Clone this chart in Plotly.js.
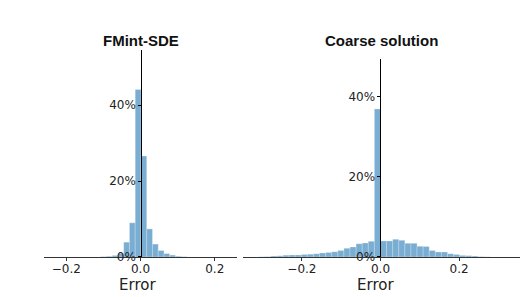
<!DOCTYPE html>
<html>
<head>
<meta charset="utf-8">
<script src="https://cdn.plot.ly/plotly-3.0.1.min.js"></script>
<style>
  html, body { margin: 0; padding: 0; background: #ffffff; }
  #chart { width: 528px; height: 297px; }
</style>
</head>
<body>
<div id="chart"></div>
<script>
// Error histograms, bin width about 0.0155, heights in percent of samples

// FMint-SDE panel
const fmintCenters = [-0.0995, -0.084, -0.0685, -0.053, -0.0375, -0.022, -0.0065,
  0.009, 0.0245, 0.040, 0.0555, 0.071, 0.0865, 0.102, 0.1175];
const fmintPercent = [0.1, 0.2, 0.4, 0.9, 3.9, 9.0, 44.1,
  26.6, 7.4, 3.4, 1.7, 0.9, 0.5, 0.2, 0.1];

// Coarse solution panel
const coarseCenters = [-0.302, -0.2868, -0.2713, -0.2558, -0.2403, -0.2248, -0.2093,
  -0.1938, -0.1783, -0.1628, -0.1473, -0.1318, -0.1163, -0.1008, -0.0853, -0.0698,
  -0.0543, -0.0388, -0.0233, -0.0078,
  0.0078, 0.0233, 0.0388, 0.0543, 0.0698, 0.0853, 0.1008, 0.1163, 0.1318,
  0.1473, 0.1628, 0.1783, 0.1938, 0.2093, 0.2248, 0.2403, 0.2558, 0.2713];
const coarsePercent = [0.05, 0.1, 0.25, 0.3, 0.45, 0.5, 0.5,
  0.6, 0.7, 0.8, 1.0, 1.15, 1.3, 1.65, 2.15, 2.5,
  3.3, 3.5, 3.9, 36.9,
  4.0, 4.0, 4.4, 4.15, 3.4, 3.4, 2.65, 2.6, 1.65,
  1.25, 1.25, 0.8, 0.65, 0.4, 0.33, 0.25, 0.1, 0.05];

const panelTitles = ['FMint-SDE', 'Coarse solution'];
const xLabel = 'Error';
const xTicks = [-0.2, 0, 0.2];
const yTicks = [0, 20, 40];
const yTickText = yTicks.map(v => v + '%');

const barColor = 'rgba(31,119,180,0.6)';
const tickFont = { family: 'DejaVu Sans', size: 12, color: '#222' };

function histTrace(x, y, xa, ya) {
  return {
    type: 'bar',
    x: x,
    y: y,
    width: 0.0155,
    xaxis: xa,
    yaxis: ya,
    marker: { color: barColor, line: { color: 'rgba(255,255,255,0.5)', width: 0.5 } },
    hovertemplate: '%{x:.3f}<br>%{y}%<extra></extra>',
  };
}

function xAxis(domain, range, anchor) {
  return {
    domain: domain,
    range: range,
    anchor: anchor,
    tickmode: 'array',
    tickvals: xTicks,
    tickformat: '.1f',
    ticks: 'outside',
    ticklen: 3,
    ticklabelstandoff: -2,
    tickcolor: '#333',
    showline: true,
    linecolor: '#333',
    linewidth: 1,
    showgrid: false,
    zeroline: false,
    tickfont: tickFont,
  };
}

function yAxis(domain, range, position) {
  return {
    domain: domain,
    range: range,
    anchor: 'free',
    position: position,
    tickmode: 'array',
    tickvals: yTicks,
    ticktext: yTickText,
    ticks: 'outside',
    ticklen: 3,
    tickcolor: '#000',
    showline: true,
    linecolor: '#000',
    linewidth: 1,
    showgrid: false,
    zeroline: false,
    tickfont: tickFont,
  };
}

const titleFont = { family: 'Liberation Sans', size: 15, color: '#111' };
const labelFont = { family: 'DejaVu Sans', size: 15, color: '#222' };

function label(text, x, y, font) {
  return { text: text, x: x, y: y, xref: 'paper', yref: 'paper',
    xanchor: 'center', yanchor: 'middle', showarrow: false, font: font };
}

Plotly.newPlot('chart', [
  histTrace(fmintCenters, fmintPercent, 'x', 'y'),
  histTrace(coarseCenters, coarsePercent, 'x2', 'y2'),
], {
  width: 528,
  height: 297,
  margin: { t: 0, r: 0, b: 0, l: 0 },
  paper_bgcolor: '#ffffff',
  plot_bgcolor: 'rgba(0,0,0,0)',
  showlegend: false,
  bargap: 0,
  xaxis: xAxis([0.0833, 0.4489], [-0.26, 0.26], 'y'),
  yaxis: yAxis([0.1347, 0.8316], [0, 54.5], 0.2676),
  xaxis2: xAxis([0.4602, 0.9848], [-0.35, 0.355], 'y2'),
  yaxis2: yAxis([0.1347, 0.8003], [0, 49.3], 0.7206),
  annotations: [
    label('<b>' + panelTitles[0] + '</b>', 0.267, 0.865, titleFont),
    label('<b>' + panelTitles[1] + '</b>', 0.7216, 0.865, titleFont),
    label(xLabel, 0.260, 0.042, labelFont),
    label(xLabel, 0.711, 0.042, labelFont),
  ],
}, { staticPlot: true });
</script>
</body>
</html>
